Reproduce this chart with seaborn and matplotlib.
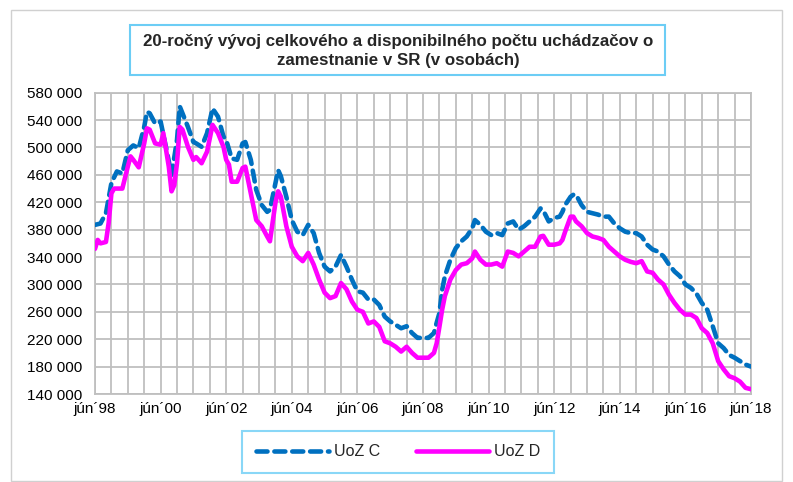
import numpy as np
import pandas as pd
import matplotlib
matplotlib.use("Agg")
import matplotlib.pyplot as plt
from matplotlib import font_manager
from matplotlib.patches import Rectangle
from matplotlib.lines import Line2D
import seaborn as sns

# months counted from jún 1998 (0) to jún 2018 (240)
c_months = [0, 2, 4, 6, 8, 10, 12, 14, 16, 18, 19, 20, 22, 24, 26, 28, 30, 31, 32, 34,
            36, 37, 39, 41, 43, 45, 47, 48, 50, 52, 54, 55, 57, 59, 61, 63, 64, 66, 67, 68,
            70, 72, 74, 76, 78, 80, 82, 84, 86, 88, 90, 92, 94, 96, 98, 100, 102, 104, 106, 108,
            110, 112, 114, 116, 118, 120, 122, 124, 125, 126, 127, 128, 130, 132, 134, 136, 138, 139, 141, 143,
            145, 147, 149, 151, 153, 155, 157, 159, 161, 163, 164, 166, 168, 170, 171, 172, 174, 175, 176, 178,
            180, 182, 184, 186, 188, 190, 192, 194, 196, 198, 200, 202, 204, 206, 208, 210, 212, 214, 216, 218,
            220, 222, 224, 226, 228, 230, 232, 234, 236, 238, 240]
c_vals = [387, 389, 404, 448, 465, 462, 496, 503, 499, 530, 552, 550, 535, 538, 500, 460, 511, 560, 550, 530,
          508, 506, 501, 521, 557, 545, 516, 511, 484, 482, 506, 508, 482, 438, 416, 406, 409, 448, 467, 458,
          428, 394, 377, 372, 387, 375, 346, 326, 319, 326, 343, 326, 307, 290, 288, 278, 278, 270, 253, 246,
          241, 236, 239, 229, 222, 222, 222, 229, 244, 258, 292, 312, 336, 353, 363, 370, 382, 394, 387, 377,
          372, 375, 372, 389, 392, 380, 385, 392, 399, 411, 408, 392, 397, 399, 406, 416, 428, 431, 431, 416,
          406, 404, 402, 399, 399, 389, 382, 377, 375, 375, 370, 358, 351, 348, 341, 329, 319, 312, 300, 295,
          287, 273, 263, 239, 214, 207, 197, 193, 188, 183, 180]

d_months = [0, 1, 2, 4, 5, 6, 7, 8, 10, 12, 13, 14, 16, 18, 19, 20, 22, 24, 25, 27,
            28, 29, 30, 31, 32, 34, 36, 37, 39, 41, 43, 45, 47, 48, 49, 50, 52, 54, 55, 57,
            59, 61, 63, 64, 66, 67, 68, 70, 72, 74, 76, 78, 80, 82, 84, 86, 88, 90, 92, 94,
            96, 98, 100, 102, 104, 106, 108, 110, 112, 114, 116, 118, 120, 122, 124, 125, 126, 127, 128, 130,
            132, 134, 136, 138, 139, 141, 143, 145, 147, 149, 151, 153, 155, 157, 159, 161, 163, 164, 166, 168,
            170, 171, 172, 174, 175, 176, 178, 180, 182, 184, 186, 188, 190, 192, 194, 196, 198, 200, 202, 204,
            206, 208, 210, 212, 214, 216, 218, 220, 222, 224, 226, 228, 230, 232, 234, 236, 238, 240]
d_vals = [352, 365, 360, 362, 390, 433, 440, 440, 440, 472, 487, 482, 471, 506, 528, 526, 506, 504, 521, 472,
          436, 445, 477, 530, 526, 501, 482, 486, 477, 494, 533, 521, 501, 482, 475, 450, 450, 470, 472, 433,
          394, 385, 370, 363, 419, 436, 428, 385, 355, 341, 334, 346, 329, 307, 288, 280, 283, 302, 293, 275,
          263, 260, 243, 246, 238, 217, 214, 209, 202, 209, 200, 193, 193, 193, 200, 214, 238, 263, 283, 307,
          321, 329, 331, 338, 348, 336, 329, 329, 331, 326, 348, 346, 341, 348, 355, 355, 370, 371, 358, 358,
          360, 365, 377, 399, 399, 392, 385, 375, 370, 368, 365, 355, 348, 341, 336, 333, 331, 334, 319, 317,
          307, 300, 285, 273, 263, 256, 256, 251, 236, 229, 214, 188, 176, 166, 163, 158, 149, 147]

x_labels = ["jún´98", "jún´00", "jún´02", "jún´04", "jún´06", "jún´08",
            "jún´10", "jún´12", "jún´14", "jún´16", "jún´18"]
series_names = ["UoZ C", "UoZ D"]
title = "20-ročný vývoj celkového a disponibilného počtu uchádzačov o\nzamestnanie v SR (v osobách)"

sns.set_theme(style="white")
installed = {f.name for f in font_manager.fontManager.ttflist}
base = "Liberation Sans Narrow" if "Liberation Sans Narrow" in installed else "Liberation Sans"
plt.rcParams["font.family"] = [base, "DejaVu Sans"]

blue = "#0070C0"
pink = "#FF00FF"
grid_c = "#BFBFBF"
frame_c = "#6CCDF5"

df_c = pd.DataFrame({"month": c_months, "value": np.array(c_vals) * 1000})
df_d = pd.DataFrame({"month": d_months, "value": np.array(d_vals) * 1000})

fig = plt.figure(figsize=(7.93, 4.82), dpi=100)
fig.patches.append(Rectangle((11 / 793, 0.002), 771 / 793, 1 - 10 / 482 - 0.002, transform=fig.transFigure,
                             fill=False, edgecolor="#D0D0D0", lw=1))
ax = fig.add_axes([95 / 793, 1 - 394 / 482, 656 / 793, (394 - 92.7) / 482])

sns.lineplot(data=df_c, x="month", y="value", ax=ax, color=blue, lw=3.3,
             linestyle=(0, (2.4, 1.5)), dash_capstyle="round", zorder=3)
sns.lineplot(data=df_d, x="month", y="value", ax=ax, color=pink, lw=3.3,
             solid_capstyle="round", zorder=4)

ax.set_xlim(0, 240)
ax.set_ylim(140000, 580000)
ax.set_xticks(np.arange(0, 241, 24))
ax.set_xticklabels(x_labels)
ax.set_xticks(np.arange(0, 241, 6), minor=True)
ax.set_yticks(np.arange(140000, 580001, 40000))
ax.set_yticklabels([f"{v:,}".replace(",", " ") for v in range(140000, 580001, 40000)])
ax.grid(True, which="both", color=grid_c, lw=1.3)
ax.set_axisbelow(True)
for s in ax.spines.values():
    s.set_color(grid_c)
    s.set_linewidth(1.3)
ax.tick_params(which="both", length=0)
ax.tick_params(axis="x", pad=6, labelsize=11, colors="#000000")
ax.tick_params(axis="y", pad=9, labelsize=11, colors="#000000")
ax.set_xlabel("")
ax.set_ylabel("")

# title box
fig.patches.append(Rectangle((130 / 793, 1 - 75 / 482), 535 / 793, 50 / 482, transform=fig.transFigure,
                             fill=True, facecolor="white", edgecolor=frame_c, lw=1.5))
fig.text(398 / 793, 1 - 51 / 482, title, ha="center", va="center", fontsize=12.2,
         fontweight="bold", linespacing=1.35)

handles = [Line2D([], [], color=blue, lw=3.3, linestyle=(0, (2.4, 1.5)), dash_capstyle="round"),
           Line2D([], [], color=pink, lw=3.3)]
leg = fig.legend(handles, series_names, loc="center", bbox_to_anchor=(398 / 793, 1 - 452 / 482),
                 ncol=2, frameon=True, fancybox=False, fontsize=11.5, handlelength=4.6,
                 columnspacing=2.2, handletextpad=0.3, borderpad=0.85, borderaxespad=0)
leg.get_frame().set_edgecolor(frame_c)
leg.get_frame().set_linewidth(1.5)

fig.savefig("out.png", dpi=100)
